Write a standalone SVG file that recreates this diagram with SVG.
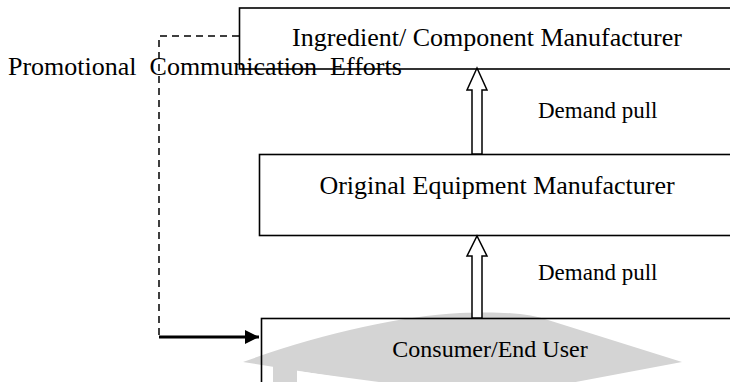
<svg xmlns="http://www.w3.org/2000/svg" width="730" height="382" viewBox="0 0 730 382">
<style>
.box{fill:none;stroke:#000;stroke-width:1.6}
.t{font-family:"Liberation Serif","Times New Roman",serif;fill:#000}
.big{font-size:26px}
.mid{font-size:24px}
.small{font-size:23px}
.blk{fill:#fff;stroke:#000;stroke-width:1.5;stroke-linejoin:miter}
.dash{fill:none;stroke:#000;stroke-width:1.5;stroke-dasharray:7 5}
.wm{fill:#d4d4d4}
</style>
<defs>
<marker id="ah" markerWidth="14" markerHeight="14" refX="14" refY="7" orient="auto" markerUnits="userSpaceOnUse" viewBox="0 0 14 14">
<path d="M0,0 L14,7 L0,14 z" fill="#000"/>
</marker>
</defs>
<rect width="730" height="382" fill="#fff"/>
<g id="watermark">
<path class="wm" d="M243,362 C320,334 400,316 460,313 C505,311 530,314 548,320 L682,362 L480,400 Z"/>
<path d="M300,374 L480,398" stroke="#fff" stroke-width="5" fill="none"/>
<rect class="wm" x="273" y="366" width="24" height="16"/>
</g>
<g id="ingredient">
<rect class="box" x="239.5" y="8" width="500" height="61"/>
<text class="t big" x="487" y="46" text-anchor="middle">Ingredient/ Component Manufacturer</text>
</g>
<g id="oem">
<rect class="box" x="259.5" y="154.5" width="480" height="81"/>
<text class="t big" x="497" y="194" text-anchor="middle">Original Equipment Manufacturer</text>
</g>
<g id="consumer">
<rect class="box" x="261.5" y="318.5" width="480" height="80"/>
<text class="t mid" x="490" y="357" text-anchor="middle">Consumer/End User</text>
</g>
<text class="t big" x="8" y="75" xml:space="preserve">Promotional  Communication  Efforts</text>
<g id="connectors">
<path class="blk" d="M472,154 L472,90 L467,90 L477,68 L487,90 L482,90 L482,154 Z"/>
<path class="blk" d="M472,318 L472,256 L467,256 L477,236 L487,256 L482,256 L482,318 Z"/>
<path class="dash" d="M239,36 L159,36 L159,337"/>
<path d="M159,337 L259,337" fill="none" stroke="#000" stroke-width="2.8" marker-end="url(#ah)"/>
<text class="t small" x="538" y="118">Demand pull</text>
<text class="t small" x="538" y="280">Demand pull</text>
</g>
</svg>
